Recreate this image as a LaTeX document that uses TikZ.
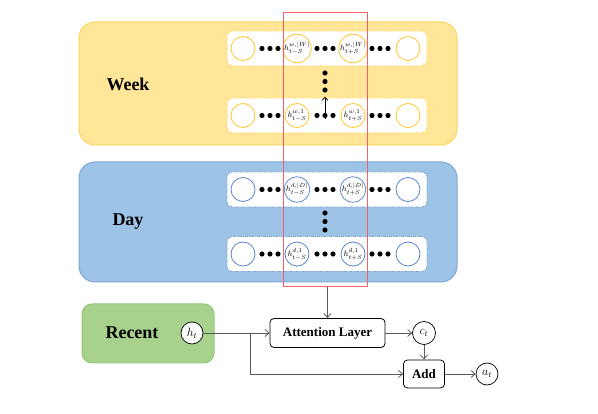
\documentclass[tikz,border=0pt]{standalone}
\usepackage{fontspec}
\setmainfont{Liberation Serif}
\usetikzlibrary{arrows.meta}
\definecolor{weekfill}{HTML}{FFE699}
\definecolor{weekline}{HTML}{FFD45C}
\definecolor{weekring}{HTML}{FFC62E}
\definecolor{dayfill}{HTML}{9DC3E6}
\definecolor{dayline}{HTML}{7EA6D3}
\definecolor{dayring}{HTML}{5B86CF}
\definecolor{recentfill}{HTML}{A9D18E}
\definecolor{recentline}{HTML}{95C578}
\definecolor{flowgray}{HTML}{595959}
\definecolor{focusred}{HTML}{F06468}

\begin{document}
\begin{tikzpicture}[x=1pt, y=-1pt,
    panel/.style={rounded corners=16pt, line width=1pt, inner sep=0pt},
    strip/.style={draw=#1, fill=white, rounded corners=5pt, line width=0.8pt,
        dash pattern=on 3pt off 1pt on 1pt off 1pt, minimum width=200pt, minimum height=35pt, inner sep=0pt},
    cell/.style={circle, draw=#1, fill=white, line width=0.8pt, minimum size=24pt, inner sep=0pt,
        font=\fontsize{8.5}{8.5}\selectfont},
    title/.style={font=\fontsize{18}{18}\selectfont\bfseries},
    block/.style={draw=black, fill=white, rounded corners=4pt, line width=0.8pt, inner sep=0pt,
        font=\fontsize{13}{13}\selectfont\bfseries},
    var/.style={circle, draw=black, fill=white, line width=0.7pt, minimum size=22pt, inner sep=0pt,
        font=\fontsize{12}{12}\selectfont},
    flow/.style={draw=flowgray, line width=0.8pt, -{Straight Barb[length=4pt, width=7pt]}}]
\useasboundingbox (0,0) rectangle (598,414);

% week
\node (week) [panel, draw=weekline, fill=weekfill, minimum width=378pt, minimum height=123pt] at (268,83.5) {};
\node (weektxt) [title] at (128,84) {Week};
\node (wtop) [strip=weekline] at (327,48.5) {};
\node (wbot) [strip=weekline] at (327,115.5) {};
\node (w1) [cell=weekring] at (243,48.5) {};
\node (w2) [cell=weekring] at (297,48.5) {$h^{w,|W|}_{t-S}$};
\node (w3) [cell=weekring] at (353,48.5) {$h^{w,|W|}_{t+S}$};
\node (w4) [cell=weekring] at (408,48.5) {};
\node (w5) [cell=weekring] at (243,115.5) {};
\node (w6) [cell=weekring] at (297,115.5) {$h^{w,1}_{t-S}$};
\node (w7) [cell=weekring] at (353,115.5) {$h^{w,1}_{t+S}$};
\node (w8) [cell=weekring] at (408,115.5) {};

% day
\node (day) [panel, draw=dayline, fill=dayfill, minimum width=378pt, minimum height=120pt] at (268,222) {};
\node (daytxt) [title] at (128,222) {Day};
\node (dtop) [strip=dayline] at (327,189.5) {};
\node (dbot) [strip=dayline] at (327,254) {};
\node (d1) [cell=dayring] at (243,189.5) {};
\node (d2) [cell=dayring] at (297,189.5) {$h^{d,|D|}_{t-S}$};
\node (d3) [cell=dayring] at (353,189.5) {$h^{d,|D|}_{t+S}$};
\node (d4) [cell=dayring] at (408,189.5) {};
\node (d5) [cell=dayring] at (243,254) {};
\node (d6) [cell=dayring] at (297,254) {$h^{d,1}_{t-S}$};
\node (d7) [cell=dayring] at (353,254) {$h^{d,1}_{t+S}$};
\node (d8) [cell=dayring] at (408,254) {};

% dots
\foreach \y in {48.5,115.5,189.5,254}
    \foreach \x in {270,325,380}
        \foreach \dx in {-8,0,8}
            \fill (\x+\dx,\y) circle (2.6pt);
\foreach \y in {73,81.5,90,213,221.5,230}
    \fill (325,\y) circle (2.6pt);

\coordinate (wfrom) at (325,119);
\coordinate (wto) at (325,97);
\draw [draw=black, line width=0.6pt, -{Straight Barb[length=3pt, width=6pt]}] (wfrom) -- (wto);

% focus window
\draw [draw=focusred, line width=1pt] (283,13) rectangle (367,287);
\coordinate (focus) at (325,287);

% recent and output
\node (recent) [panel, rounded corners=10pt, draw=recentline, fill=recentfill, minimum width=132pt, minimum height=59pt] at (148,333.5) {};
\node (recenttxt) [title] at (132,333) {Recent};
\node (ht) [var] at (192,333) {$h_t$};
\node (att) [block, minimum width=115pt, minimum height=29pt] at (327.5,333) {Attention Layer};
\node (ct) [var, minimum size=23pt] at (424,333) {$c_t$};
\node (add) [block, minimum width=41pt, minimum height=28pt] at (424,374) {Add};
\node (at) [var] at (487,374) {$a_t$};
\coordinate (split) at (250,333);

\draw [flow] (focus -| att.north) -- (att.north);
\draw [flow] (ht) -- (att);
\draw [flow] (split) |- (add.west);
\draw [flow] (att) -- (ct);
\draw [flow] (ct) -- (add);
\draw [flow] (add) -- (at);

\end{tikzpicture}
\end{document}
